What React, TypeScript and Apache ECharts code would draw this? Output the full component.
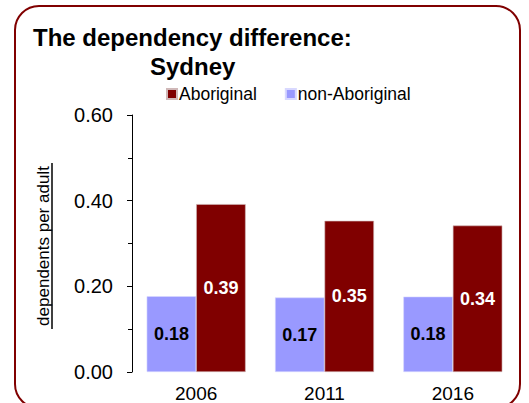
import React, { useEffect, useRef } from "react";
import * as echarts from "echarts";

const categories = ["2006", "2011", "2016"];
const aboriginal = [0.392, 0.353, 0.342];
const nonAboriginal = [0.177, 0.174, 0.176];
const yTicks = [0, 0.2, 0.4, 0.6];

const FONT = "'Liberation Sans', Arial, Helvetica, sans-serif";

export default function App() {
  const ref = useRef<HTMLDivElement>(null);
  useEffect(() => {
    if (!ref.current) return;
    const chart = echarts.init(ref.current, null, { renderer: "svg" });
    chart.setOption({
      animation: false,
      backgroundColor: "#ffffff",
      textStyle: { fontFamily: FONT },
      title: [
        {
          text: "The dependency difference:",
          left: 33,
          top: 25,
          padding: 0,
          textStyle: { fontFamily: FONT, fontSize: 24, fontWeight: "bold", color: "#000" },
        },
        {
          text: "Sydney",
          left: 150,
          top: 54,
          padding: 0,
          textStyle: { fontFamily: FONT, fontSize: 24, fontWeight: "bold", color: "#000" },
        },
      ],
      legend: {
        data: ["Aboriginal", "non-Aboriginal"],
        left: 166,
        top: 85,
        padding: 0,
        itemWidth: 10,
        itemHeight: 10,
        itemGap: 28,
        icon: "rect",
        textStyle: { fontFamily: FONT, fontSize: 17.5, color: "#000", padding: [0, 0, 0, -3] },
      },
      grid: { left: 132, right: 12, top: 115, bottom: 28, containLabel: false },
      xAxis: {
        type: "category",
        data: categories,
        axisLine: { show: false },
        axisTick: { show: false },
        axisLabel: { fontFamily: FONT, fontSize: 19, color: "#000", margin: 12 },
      },
      yAxis: {
        type: "value",
        min: yTicks[0],
        max: yTicks[yTicks.length - 1],
        interval: 0.2,
        axisLine: { show: true, lineStyle: { color: "#000", width: 1 } },
        axisTick: { show: true, length: 5, lineStyle: { color: "#000" } },
        minorTick: { show: true, splitNumber: 2, length: 4, lineStyle: { color: "#000" } },
        splitLine: { show: false },
        axisLabel: {
          fontFamily: FONT,
          fontSize: 20,
          color: "#000",
          margin: 19,
          formatter: (v: number) => v.toFixed(2),
        },
      },
      series: [
        {
          name: "non-Aboriginal",
          type: "bar",
          data: nonAboriginal,
          barWidth: 49.5,
          barGap: "0%",
          itemStyle: { color: "#9999FF", borderColor: "#d8d8ff", borderWidth: 0.6 },
          label: {
            show: true,
            position: "inside",
            fontFamily: FONT,
            fontSize: 18,
            fontWeight: "bold",
            color: "#000",
            formatter: (p: any) => p.value.toFixed(2),
          },
        },
        {
          name: "Aboriginal",
          type: "bar",
          data: aboriginal,
          barWidth: 49.5,
          barGap: "0%",
          itemStyle: { color: "#800000", borderColor: "#d0b8b8", borderWidth: 0.6 },
          label: {
            show: true,
            position: "inside",
            fontFamily: FONT,
            fontSize: 18,
            fontWeight: "bold",
            color: "#fff",
            formatter: (p: any) => p.value.toFixed(2),
          },
        },
      ],
      graphic: [
        {
          type: "rect",
          shape: { x: 15, y: 6, width: 505, height: 402, r: 24 },
          style: { fill: "none", stroke: "#800000", lineWidth: 2 },
          silent: true,
          z: 100,
        },
        {
          type: "text",
          x: 43,
          y: 246,
          rotation: Math.PI / 2,
          style: {
            text: "dependents per adult",
            fontFamily: FONT,
            fontSize: 17,
            fill: "#000",
            align: "center",
            verticalAlign: "middle",
          },
        },
        {
          type: "line",
          shape: { x1: 52, y1: 163, x2: 52, y2: 329 },
          style: { stroke: "#000", lineWidth: 1.5 },
        },
      ],
    });
    return () => chart.dispose();
  }, []);
  return <div ref={ref} style={{ width: 529, height: 403, position: "absolute", left: 0, top: 0 }} />;
}
